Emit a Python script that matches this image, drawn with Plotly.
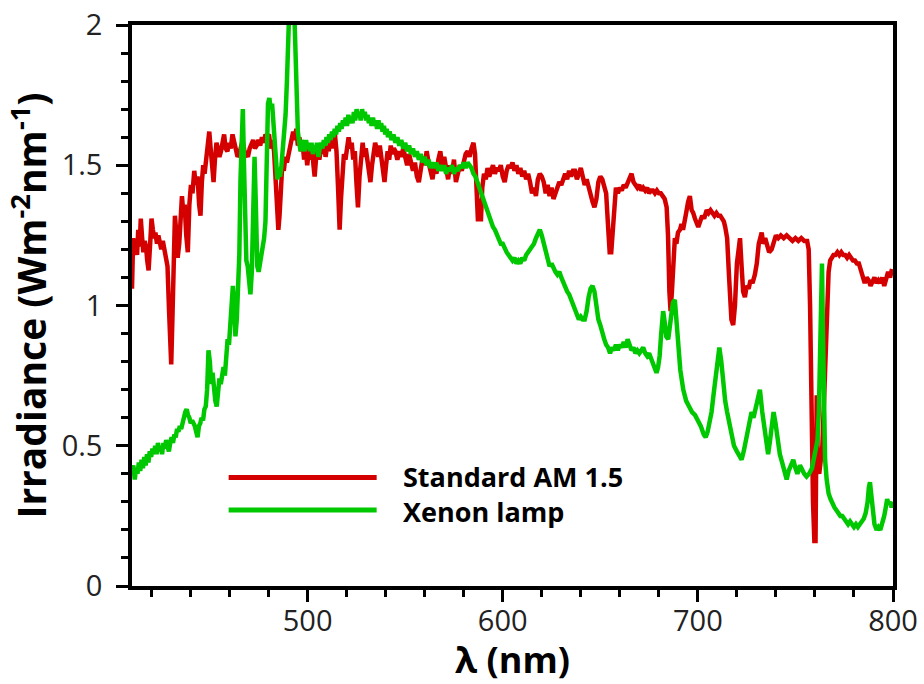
import plotly.graph_objects as go

# ---------------- data ----------------
am15_wl = [410.0, 410.6, 411.3, 412.0, 412.6, 413.2, 413.9, 414.5, 415.2, 415.8, 416.5, 417.2, 417.8, 418.5, 419.3,
           420.0, 420.7, 421.4, 422.0, 422.8, 423.5, 424.2, 425.0, 425.8, 426.5, 427.3, 428.2, 429.0, 429.6, 430.1,
           430.7, 431.3, 432.0, 432.7, 433.4, 434.2, 435.0, 435.6, 436.3, 437.0, 437.8, 438.6, 439.4, 440.2, 441.0,
           441.9, 442.7, 443.6, 444.4, 445.1, 445.8, 446.5, 447.2, 448.0, 448.8, 449.6, 450.3, 451.0, 451.8, 452.5,
           453.3, 454.0, 454.8, 455.6, 456.4, 457.2, 458.0, 458.9, 459.7, 460.6, 461.5, 462.3, 463.2, 464.1, 465.0,
           465.8, 466.7, 467.6, 468.5, 469.4, 470.3, 471.2, 472.1, 473.0, 473.9, 474.8, 475.7, 476.6, 477.5, 478.4,
           479.3, 480.2, 481.1, 482.0, 482.8, 483.6, 484.4, 485.0, 485.6, 486.3, 487.0, 487.8, 488.6, 489.4, 490.2,
           491.0, 491.8, 492.6, 493.4, 494.2, 495.0, 495.8, 496.6, 497.4, 498.2, 499.0, 499.8, 500.6, 501.4, 502.2,
           503.0, 503.6, 504.4, 505.2, 506.0, 506.8, 507.6, 508.4, 509.2, 510.0, 510.8, 511.6, 512.4, 513.2, 514.0,
           514.8, 515.6, 516.4, 517.1, 517.8, 518.6, 519.4, 520.2, 521.0, 521.8, 522.6, 523.4, 524.2, 525.0, 525.8,
           526.6, 527.4, 528.2, 529.0, 529.8, 530.6, 531.4, 532.2, 533.0, 533.8, 534.6, 535.4, 536.2, 537.0, 537.8,
           538.6, 539.4, 540.2, 541.0, 541.8, 542.6, 543.4, 544.2, 545.0, 546.0, 547.0, 548.0, 549.0, 550.0, 551.0,
           552.0, 553.0, 554.0, 555.0, 556.0, 557.0, 558.0, 559.0, 560.0, 561.0, 562.0, 563.0, 564.0, 565.0, 566.0,
           567.0, 568.0, 569.0, 570.0, 571.0, 572.0, 573.0, 574.0, 575.0, 576.0, 577.0, 578.0, 579.0, 580.0, 581.0,
           582.0, 583.0, 584.0, 585.0, 585.8, 586.6, 587.3, 588.0, 588.8, 589.5, 590.4, 591.3, 592.2, 593.1, 594.0,
           595.0, 596.0, 597.0, 598.0, 599.0, 600.0, 601.0, 602.0, 603.0, 604.0, 605.0, 606.0, 607.0, 608.0, 609.0,
           610.0, 611.0, 612.0, 613.0, 614.0, 615.0, 616.0, 617.0, 618.0, 619.0, 620.0, 621.0, 622.0, 623.0, 624.0,
           625.0, 626.0, 627.0, 628.0, 629.0, 630.0, 631.0, 632.0, 633.0, 634.0, 635.0, 636.0, 637.0, 638.0, 639.0,
           640.0, 641.0, 642.0, 643.0, 644.0, 645.0, 646.0, 647.0, 648.0, 649.0, 650.0, 651.0, 652.0, 653.0, 654.0,
           654.8, 655.6, 656.4, 657.2, 658.0, 659.0, 660.0, 661.0, 662.0, 663.0, 664.0, 665.0, 666.0, 667.0, 668.0,
           669.0, 670.0, 671.0, 672.0, 673.0, 674.0, 675.0, 676.0, 677.0, 678.0, 679.0, 680.0, 681.0, 682.0, 683.0,
           684.0, 684.7, 685.4, 686.0, 686.7, 687.4, 688.2, 689.0, 689.8, 690.8, 691.6, 692.4, 693.2, 694.0, 695.0,
           695.9, 696.8, 697.6, 698.5, 699.4, 700.2, 701.2, 702.2, 703.2, 704.5, 705.5, 706.5, 707.5, 708.5, 709.5,
           710.5, 711.5, 712.5, 713.3, 714.0, 715.0, 716.0, 717.2, 718.1, 719.0, 720.0, 721.0, 721.6, 722.4, 723.2,
           724.1, 725.0, 726.0, 727.0, 728.0, 729.2, 730.2, 731.2, 732.7, 733.5, 734.5, 735.5, 736.5, 737.8, 739.0,
           740.0, 741.2, 742.5, 744.0, 745.5, 747.0, 748.5, 750.0, 751.5, 753.0, 754.5, 756.0, 756.8, 757.5, 758.2,
           759.0, 759.7, 760.3, 760.9, 761.5, 762.2, 763.0, 763.8, 764.6, 765.4, 766.2, 767.0, 767.8, 768.6, 769.5,
           770.5, 771.5, 772.5, 773.5, 774.5, 775.5, 776.5, 777.5, 778.5, 779.5, 780.5, 781.5, 782.5, 783.5, 784.5,
           785.5, 786.5, 787.5, 788.5, 789.5, 790.5, 791.5, 792.5, 793.5, 794.5, 795.5, 796.5, 797.5, 798.5, 799.5]
am15_irr = [1.06, 1.24, 1.19, 1.22, 1.18, 1.27, 1.21, 1.31, 1.24, 1.19, 1.23, 1.21, 1.16, 1.125, 1.22,
            1.31, 1.27, 1.24, 1.26, 1.22, 1.25, 1.23, 1.20, 1.23, 1.20, 1.18, 1.14, 0.98, 0.85, 0.79,
            0.95, 1.10, 1.32, 1.26, 1.17, 1.22, 1.34, 1.39, 1.33, 1.36, 1.25, 1.19, 1.36, 1.43, 1.40,
            1.48, 1.43, 1.46, 1.36, 1.32, 1.44, 1.50, 1.47, 1.53, 1.56, 1.62, 1.56, 1.50, 1.44, 1.52,
            1.58, 1.56, 1.53, 1.55, 1.59, 1.61, 1.56, 1.55, 1.58, 1.56, 1.61, 1.58, 1.55, 1.53, 1.54,
            1.57, 1.59, 1.55, 1.54, 1.53, 1.56, 1.58, 1.59, 1.56, 1.57, 1.59, 1.57, 1.60, 1.58, 1.61,
            1.60, 1.61, 1.56, 1.59, 1.55, 1.45, 1.33, 1.27, 1.32, 1.47, 1.50, 1.48, 1.53, 1.51, 1.54,
            1.58, 1.60, 1.62, 1.59, 1.63, 1.57, 1.60, 1.55, 1.58, 1.52, 1.56, 1.50, 1.55, 1.52, 1.57,
            1.50, 1.46, 1.53, 1.57, 1.52, 1.56, 1.54, 1.58, 1.53, 1.57, 1.55, 1.59, 1.56, 1.60, 1.61,
            1.55, 1.42, 1.27, 1.38, 1.50, 1.54, 1.52, 1.57, 1.60, 1.56, 1.58, 1.52, 1.55, 1.44, 1.35,
            1.46, 1.55, 1.58, 1.53, 1.56, 1.52, 1.48, 1.44, 1.50, 1.55, 1.58, 1.56, 1.53, 1.57, 1.52,
            1.48, 1.44, 1.50, 1.55, 1.52, 1.57, 1.54, 1.56, 1.55, 1.52, 1.55, 1.53, 1.56, 1.52, 1.50,
            1.54, 1.51, 1.48, 1.51, 1.46, 1.44, 1.49, 1.53, 1.50, 1.55, 1.51, 1.48, 1.45, 1.50, 1.47,
            1.52, 1.55, 1.50, 1.53, 1.49, 1.45, 1.50, 1.47, 1.52, 1.44, 1.47, 1.50, 1.48, 1.52, 1.54,
            1.55, 1.53, 1.56, 1.58, 1.54, 1.42, 1.30, 1.38, 1.30, 1.42, 1.47, 1.45, 1.49, 1.46, 1.48,
            1.50, 1.47, 1.49, 1.48, 1.50, 1.46, 1.44, 1.48, 1.50, 1.49, 1.51, 1.48, 1.50, 1.47, 1.49,
            1.46, 1.48, 1.45, 1.47, 1.44, 1.40, 1.42, 1.39, 1.45, 1.47, 1.46, 1.44, 1.40, 1.43, 1.39,
            1.42, 1.38, 1.40, 1.41, 1.44, 1.43, 1.45, 1.47, 1.45, 1.48, 1.46, 1.48, 1.48, 1.45, 1.47,
            1.49, 1.46, 1.43, 1.45, 1.42, 1.39, 1.37, 1.35, 1.38, 1.44, 1.46, 1.45, 1.43, 1.40, 1.28,
            1.19, 1.19, 1.28, 1.39, 1.42, 1.40, 1.42, 1.41, 1.43, 1.42, 1.44, 1.45, 1.47, 1.44, 1.43,
            1.42, 1.43, 1.41, 1.42, 1.41, 1.42, 1.40, 1.41, 1.41, 1.40, 1.41, 1.40, 1.40, 1.39, 1.38,
            1.35, 1.25, 1.05, 0.98, 1.05, 1.17, 1.24, 1.22, 1.26, 1.27, 1.29, 1.27, 1.31, 1.33, 1.37,
            1.39, 1.34, 1.33, 1.31, 1.29, 1.28, 1.30, 1.32, 1.31, 1.34, 1.33, 1.34, 1.33, 1.32, 1.33,
            1.32, 1.32, 1.31, 1.30, 1.28, 1.24, 1.10, 0.95, 0.93, 1.00, 1.15, 1.23, 1.24, 1.14, 1.05,
            1.03, 1.07, 1.06, 1.09, 1.08, 1.11, 1.15, 1.22, 1.26, 1.22, 1.24, 1.21, 1.19, 1.20, 1.23,
            1.25, 1.24, 1.25, 1.24, 1.25, 1.24, 1.23, 1.24, 1.23, 1.24, 1.23, 1.23, 1.20, 1.00, 0.60,
            0.30, 0.16, 0.16, 0.68, 0.42, 0.40, 0.45, 0.50, 0.65, 0.85, 1.02, 1.12, 1.16, 1.17, 1.18,
            1.18, 1.19, 1.18, 1.19, 1.18, 1.18, 1.17, 1.18, 1.17, 1.16, 1.16, 1.15, 1.15, 1.13, 1.10,
            1.08, 1.10, 1.09, 1.07, 1.09, 1.10, 1.08, 1.09, 1.08, 1.10, 1.07, 1.09, 1.12, 1.10, 1.13]

xenon_wl = [410.0, 410.7, 411.4, 412.1, 412.8, 413.5, 414.2, 414.9, 415.6, 416.3, 417.0, 417.7, 418.4, 419.1, 419.8,
            420.5, 421.2, 421.9, 422.6, 423.3, 424.0, 424.7, 425.4, 426.1, 426.8, 427.5, 428.2, 428.9, 429.6, 430.3,
            431.0, 431.7, 432.4, 433.1, 433.8, 434.5, 435.2, 435.9, 436.6, 437.3, 438.0, 438.7, 439.4, 440.1, 440.8,
            441.5, 442.2, 442.9, 443.6, 444.3, 445.0, 445.7, 446.4, 447.1, 447.8, 448.5, 449.2, 449.9, 450.6, 451.3,
            452.0, 452.7, 453.4, 454.1, 454.8, 455.5, 456.2, 456.9, 457.6, 458.3, 459.0, 459.7, 460.4, 461.1, 461.7,
            462.4, 463.0, 463.7, 464.4, 465.0, 465.6, 466.2, 466.8, 467.4, 468.0, 468.6, 469.3, 470.0, 470.7, 471.4,
            472.1, 472.8, 473.5, 474.2, 474.9, 475.6, 476.3, 477.0, 477.7, 478.4, 479.0, 479.7, 480.4, 481.1, 481.8,
            482.4, 483.1, 483.8, 484.5, 485.2, 485.9, 486.6, 487.3, 488.0, 488.7, 489.4, 490.1, 490.8, 491.5, 492.2,
            492.9, 493.6, 494.3, 495.0, 495.7, 496.4, 497.1, 497.8, 498.5, 499.2, 499.9, 500.6, 501.3, 502.0, 502.7,
            503.4, 504.1, 504.8, 505.5, 506.2, 506.9, 507.6, 508.3, 509.0, 509.7, 510.4, 511.1, 511.8, 512.5, 513.2,
            513.9, 514.6, 515.3, 516.0, 516.7, 517.4, 518.1, 518.8, 519.5, 520.2, 520.9, 521.6, 522.3, 523.0, 523.7,
            524.4, 525.1, 525.8, 526.5, 527.2, 527.9, 528.6, 529.3, 530.0, 530.7, 531.4, 532.1, 532.8, 533.5, 534.2,
            534.9, 535.6, 536.3, 537.0, 537.7, 538.4, 539.1, 539.8, 540.5, 541.2, 542.0, 543.0, 544.0, 545.0, 546.0,
            547.0, 548.0, 549.0, 550.0, 551.0, 552.0, 553.0, 554.0, 555.0, 556.0, 557.0, 558.0, 559.0, 560.0, 561.0,
            562.0, 563.0, 564.0, 565.0, 566.0, 567.0, 568.0, 569.0, 570.0, 571.0, 572.0, 573.0, 574.0, 575.0, 576.0,
            577.0, 578.0, 579.0, 580.0, 581.0, 582.0, 583.0, 584.0, 585.0, 586.0, 587.0, 588.0, 589.0, 590.0, 591.0,
            592.0, 593.0, 594.0, 595.0, 596.0, 597.0, 598.0, 599.0, 600.0, 601.0, 602.0, 603.0, 604.0, 605.0, 606.0,
            607.0, 608.0, 609.0, 610.0, 611.0, 612.0, 613.0, 614.0, 615.0, 616.0, 617.0, 618.0, 619.0, 620.0, 621.0,
            622.0, 623.0, 624.0, 625.0, 626.0, 627.0, 628.0, 629.0, 630.0, 631.0, 632.0, 633.0, 634.0, 635.0, 636.0,
            637.0, 638.0, 639.0, 640.0, 641.0, 642.0, 643.0, 644.0, 645.0, 646.0, 647.0, 648.0, 649.0, 650.0, 651.0,
            652.0, 653.0, 654.0, 655.0, 656.0, 657.0, 658.0, 659.0, 660.0, 661.0, 662.0, 663.0, 664.0, 665.0, 666.0,
            667.0, 668.0, 669.0, 670.0, 671.0, 672.0, 673.0, 674.0, 675.0, 676.0, 677.0, 678.0, 678.8, 679.6, 680.4,
            681.2, 682.2, 683.0, 683.8, 684.8, 685.6, 686.4, 687.2, 688.2, 689.0, 690.0, 691.0, 692.5, 694.0, 695.5,
            697.0, 698.5, 700.0, 701.5, 703.0, 704.0, 705.0, 706.0, 707.0, 708.0, 709.0, 710.0, 711.0, 712.0, 713.0,
            714.0, 715.0, 716.0, 717.3, 718.5, 720.0, 721.0, 722.4, 723.5, 724.5, 725.5, 726.5, 727.5, 728.5, 729.5,
            730.5, 731.8, 733.0, 734.2, 735.2, 736.0, 737.0, 738.0, 738.8, 739.8, 741.0, 742.0, 743.2, 744.5, 745.5,
            746.5, 747.5, 748.9, 750.0, 751.0, 752.3, 753.5, 754.5, 755.7, 757.0, 758.5, 759.5, 760.5, 761.3, 762.0,
            762.6, 763.1, 763.6, 764.1, 764.6, 765.2, 766.0, 767.0, 768.0, 769.0, 770.0, 771.0, 772.0, 773.0, 774.0,
            775.0, 776.0, 777.0, 778.0, 779.0, 780.0, 781.0, 782.0, 783.0, 784.0, 785.0, 786.0, 787.0, 787.6, 788.2,
            788.8, 789.5, 790.5, 791.6, 792.5, 793.5, 794.5, 795.5, 796.3, 797.0, 797.8, 798.5, 799.3, 800.0]
xenon_irr = [0.40, 0.43, 0.38, 0.42, 0.40, 0.44, 0.41, 0.45, 0.42, 0.46, 0.43, 0.47, 0.44, 0.48, 0.46,
             0.49, 0.47, 0.50, 0.47, 0.51, 0.48, 0.50, 0.47, 0.51, 0.49, 0.52, 0.50, 0.48, 0.51, 0.53,
             0.51, 0.54, 0.53, 0.56, 0.55, 0.57, 0.56, 0.59, 0.60, 0.62, 0.63, 0.61, 0.60, 0.58, 0.59,
             0.58, 0.57, 0.55, 0.53, 0.57, 0.58, 0.60, 0.59, 0.63, 0.64, 0.70, 0.84, 0.80, 0.72, 0.76,
             0.69, 0.66, 0.64, 0.68, 0.74, 0.72, 0.76, 0.78, 0.75, 0.82, 0.88, 0.86, 0.94, 1.02, 1.07,
             1.00, 0.89, 0.95, 1.10, 1.18, 1.45, 1.65, 1.70, 1.50, 1.25, 1.16, 1.14, 1.08, 1.04, 1.12,
             1.35, 1.53, 1.35, 1.14, 1.12, 1.15, 1.18, 1.20, 1.24, 1.30, 1.45, 1.72, 1.74, 1.70, 1.72,
             1.66, 1.55, 1.48, 1.45, 1.47, 1.46, 1.50, 1.55, 1.60, 1.68, 1.80, 2.05, 2.10, 2.10, 2.10,
             2.10, 1.95, 1.68, 1.62, 1.58, 1.55, 1.59, 1.56, 1.55, 1.59, 1.56, 1.58, 1.55, 1.58, 1.54,
             1.57, 1.55, 1.58, 1.53, 1.56, 1.58, 1.56, 1.59, 1.57, 1.60, 1.58, 1.61, 1.59, 1.62, 1.60,
             1.63, 1.61, 1.64, 1.62, 1.65, 1.63, 1.66, 1.64, 1.67, 1.64, 1.68, 1.65, 1.67, 1.65, 1.69,
             1.66, 1.70, 1.67, 1.69, 1.66, 1.70, 1.67, 1.69, 1.66, 1.68, 1.65, 1.67, 1.64, 1.67, 1.64,
             1.66, 1.63, 1.66, 1.63, 1.65, 1.62, 1.64, 1.61, 1.63, 1.60, 1.62, 1.59, 1.61, 1.58, 1.60,
             1.57, 1.59, 1.56, 1.58, 1.55, 1.57, 1.54, 1.56, 1.53, 1.55, 1.52, 1.54, 1.51, 1.53, 1.50,
             1.52, 1.49, 1.51, 1.49, 1.51, 1.48, 1.50, 1.48, 1.50, 1.47, 1.49, 1.48, 1.50, 1.47, 1.49,
             1.48, 1.50, 1.49, 1.51, 1.49, 1.51, 1.50, 1.49, 1.47, 1.46, 1.44, 1.42, 1.40, 1.37, 1.35,
             1.33, 1.31, 1.30, 1.28, 1.27, 1.25, 1.24, 1.22, 1.22, 1.20, 1.19, 1.18, 1.17, 1.16, 1.17,
             1.15, 1.16, 1.15, 1.17, 1.16, 1.18, 1.19, 1.20, 1.21, 1.22, 1.24, 1.26, 1.27, 1.25, 1.22,
             1.19, 1.16, 1.14, 1.15, 1.13, 1.12, 1.11, 1.12, 1.10, 1.08, 1.06, 1.05, 1.04, 1.02, 1.00,
             0.99, 0.97, 0.95, 0.96, 0.95, 0.95, 0.98, 1.03, 1.06, 1.07, 1.05, 1.00, 0.95, 0.93, 0.90,
             0.88, 0.86, 0.85, 0.83, 0.85, 0.84, 0.86, 0.84, 0.86, 0.85, 0.87, 0.85, 0.88, 0.86, 0.84,
             0.85, 0.83, 0.84, 0.83, 0.84, 0.85, 0.83, 0.82, 0.83, 0.81, 0.80, 0.78, 0.76, 0.78, 0.82,
             0.90, 0.98, 0.94, 0.89, 0.88, 0.93, 0.98, 1.01, 1.02, 0.95, 0.85, 0.77, 0.70, 0.66, 0.64,
             0.62, 0.61, 0.59, 0.57, 0.54, 0.53, 0.55, 0.58, 0.62, 0.68, 0.75, 0.82, 0.85, 0.80, 0.72,
             0.66, 0.62, 0.58, 0.53, 0.50, 0.48, 0.47, 0.45, 0.48, 0.52, 0.56, 0.59, 0.62, 0.60, 0.63,
             0.66, 0.70, 0.62, 0.55, 0.50, 0.47, 0.52, 0.58, 0.62, 0.58, 0.51, 0.47, 0.44, 0.40, 0.38,
             0.41, 0.43, 0.45, 0.42, 0.40, 0.43, 0.41, 0.40, 0.39, 0.40, 0.42, 0.45, 0.48, 0.52, 0.62,
             0.85, 1.15, 1.15, 0.90, 0.60, 0.45, 0.38, 0.33, 0.31, 0.29, 0.28, 0.27, 0.26, 0.25, 0.25,
             0.24, 0.23, 0.22, 0.23, 0.22, 0.21, 0.22, 0.21, 0.22, 0.23, 0.24, 0.26, 0.30, 0.35, 0.37,
             0.33, 0.27, 0.22, 0.20, 0.21, 0.20, 0.22, 0.25, 0.28, 0.31, 0.29, 0.30, 0.28, 0.30]

series_names = ["Standard AM 1.5", "Xenon lamp"]
series_colors = ["#D40000", "#00C800"]
x_ticks = [500, 600, 700, 800]
y_ticks = [0, 0.5, 1, 1.5, 2]

# ---------------- figure ----------------
fig = go.Figure()
fig.add_trace(go.Scatter(x=am15_wl, y=am15_irr, mode="lines", name=series_names[0],
                         line=dict(color=series_colors[0], width=4.5), showlegend=False))
fig.add_trace(go.Scatter(x=xenon_wl, y=xenon_irr, mode="lines", name=series_names[1],
                         line=dict(color=series_colors[1], width=4.5), showlegend=False))

# legend drawn by hand (long sample lines like the original)
legend_y = [0.1934, 0.1355]
for col, ly in zip(series_colors, legend_y):
    fig.add_shape(type="line", xref="paper", yref="paper", x0=0.127, x1=0.3215, y0=ly, y1=ly,
                  line=dict(color=col, width=5))
fig.add_annotation(xref="paper", yref="paper", x=0.353, y=sum(legend_y) / 2,
                   text="<br>".join("<b>%s</b>" % n for n in series_names),
                   showarrow=False, xanchor="left", yanchor="middle", align="left",
                   font=dict(family="Open Sans", size=27, color="#000"))

axis_common = dict(showline=True, linecolor="#000", linewidth=3.5, mirror=True,
                   ticks="outside", ticklen=12, tickwidth=2.5, tickcolor="#000",
                   showgrid=False, zeroline=False, automargin=False,
                   tickfont=dict(family="Open Sans", size=29, color="#222"))

fig.update_xaxes(range=[410, 800], tickvals=x_ticks, ticklabelstandoff=-6, **axis_common,
                 minor=dict(dtick=20, tick0=0, ticks="outside", ticklen=7, tickwidth=2.5, tickcolor="#000"),
                 title=dict(text="<b>λ (nm)</b>", font=dict(family="Open Sans", size=36, color="#000"),
                            standoff=4))
fig.update_yaxes(range=[0, 2], tickvals=y_ticks, ticklabelstandoff=8, **axis_common,
                 minor=dict(dtick=0.1, tick0=0, ticks="outside", ticklen=7, tickwidth=2.5, tickcolor="#000"),
                 title=dict(text="<b>Irradiance (Wm<sup>-2</sup>nm<sup>-1</sup>)</b>",
                            font=dict(family="Open Sans", size=39, color="#000"), standoff=4))

fig.update_layout(width=924, height=684, margin=dict(l=132, r=31, t=25, b=98),
                  plot_bgcolor="white", paper_bgcolor="white", showlegend=False)

fig.write_html("out.html")
